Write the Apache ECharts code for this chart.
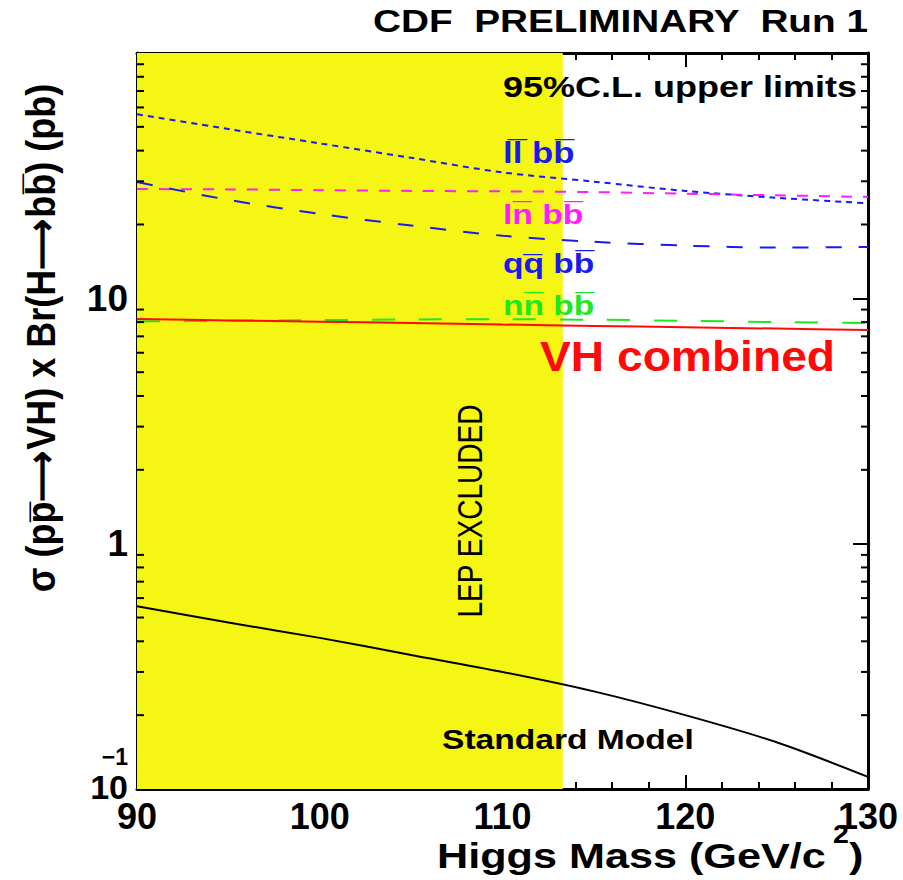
<!DOCTYPE html>
<html><head><meta charset="utf-8">
<script src="https://cdn.jsdelivr.net/npm/echarts@6/dist/echarts.min.js"></script>
<style>html,body{margin:0;padding:0;background:#fff}#c{width:903px;height:880px}</style>
</head><body><div id="c"></div>
<script>
// ---- data ----
const masses = [90, 95, 100, 105, 110, 115, 120, 125, 130];
const llbb   = [56.3, 49.0, 42.8, 37.4, 32.6, 29.9, 27.4, 25.7, 24.4];
const lnbb   = [27.9, 27.8, 27.6, 27.4, 27.3, 27.1, 26.7, 26.3, 25.9];
const qqbb   = [29.8, 25.2, 22.1, 19.8, 18.0, 17.0, 16.4, 16.1, 16.2];
const nnbb   = [8.04, 8.10, 8.15, 8.20, 8.22, 8.18, 8.10, 8.00, 7.93];
const vhComb = [8.24, 8.13, 8.03, 7.93, 7.82, 7.72, 7.62, 7.53, 7.43];
const smXsec = [0.556, 0.477, 0.413, 0.352, 0.300, 0.250, 0.200, 0.155, 0.112];
const lepLimit = 113.3;
const xMin = 90, xMax = 130, xStep = 10;
const yMin = 0.1, yMax = 100;
const yMinorTicks = [0.2,0.3,0.4,0.5,0.6,0.7,0.8,0.9, 2,3,4,5,6,7,8,9, 20,30,40,50,60,70,80,90];
const yTickText = {'0.1': '10', '1': '1', '10': '10', '100': ''};

const pairs = arr => masses.map((m, i) => [m, arr[i]]);
const FONT = '"Liberation Sans", Arial, sans-serif';
const black = '#000';

const chart = echarts.init(document.getElementById('c'), null, {renderer: 'svg'});

const tickStyle = {color: black, width: 2};
function xAx(pos, showLabel) {
  return {
    type: 'value', min: xMin, max: xMax, interval: xStep, position: pos,
    axisLine: {show: true, onZero: false, lineStyle: {color: black, width: 3}},
    axisTick: {show: true, inside: true, length: 14, lineStyle: tickStyle},
    minorTick: {show: true, splitNumber: 5, length: 7, lineStyle: tickStyle},
    splitLine: {show: false},
    axisLabel: {show: showLabel, fontSize: 36, fontWeight: 'bold', fontFamily: FONT, color: black, margin: 9}
  };
}
function yAx(pos, showLabel) {
  return {
    type: 'log', logBase: 10, min: yMin, max: yMax, position: pos,
    axisLine: {show: true, onZero: false, lineStyle: {color: black, width: 3}},
    axisTick: {show: true, inside: true, length: 15, lineStyle: tickStyle},
    minorTick: {show: false},
    splitLine: {show: false},
    axisLabel: {
      show: showLabel, margin: 9, align: 'right',
      formatter: v => {
        const key = String(+v.toPrecision(3));
        const t = yTickText[key];
        if (t === undefined || t === '') return '';
        if (key === '0.1') return '{e|−1}\n{s|' + t + '}\n{f| }';
        return '{b|' + t + '}';
      },
      rich: {
        b: {fontSize: 37, fontWeight: 'bold', fontFamily: FONT, color: black, lineHeight: 40, align: 'right'},
        s: {fontSize: 34, fontWeight: 'bold', fontFamily: FONT, color: black, lineHeight: 34, align: 'right'},
        e: {fontSize: 23, fontWeight: 'bold', fontFamily: FONT, color: black, lineHeight: 26, align: 'right'},
        f: {fontSize: 10, lineHeight: 30, align: 'right'}
      }
    }
  };
}

function lineSeries(name, arr, color, type, z) {
  return {
    name, type: 'line', data: pairs(arr), showSymbol: false, smooth: 0.3, z: z || 3,
    lineStyle: {color, width: 2, type}, xAxisIndex: 0, yAxisIndex: 0, silent: true
  };
}

const option = {
  backgroundColor: '#fff',
  animation: false,
  grid: {left: 137, right: 35, top: 53, bottom: 91, containLabel: false},
  xAxis: [xAx('bottom', true), xAx('top', false)],
  yAxis: [yAx('left', true), yAx('right', false)],
  series: [
    {
      name: 'LEP excluded', type: 'line', data: [], z: 1, silent: true,
      markArea: {
        silent: true,
        itemStyle: {color: '#f6f614', opacity: 1},
        data: [[{coord: [xMin, yMin]}, {coord: [lepLimit, yMax]}]]
      }
    },
    lineSeries('ll bb', llbb, '#1a1aee', [6, 5]),
    lineSeries('ln bb', lnbb, '#ff1cff', [11, 11]),
    lineSeries('qq bb', qqbb, '#1a1aee', [16, 17]),
    lineSeries('nn bb', nnbb, '#1ee81e', [23, 24]),
    lineSeries('VH combined', vhComb, '#ff0a0a', 'solid', 4),
    lineSeries('Standard Model', smXsec, '#000000', 'solid', 4),
    {
      name: 'minor ticks', type: 'custom', z: 6, silent: true, clip: false,
      data: yMinorTicks.map(v => [xMin, v]),
      renderItem: (params, api) => {
        const v = api.value(1);
        const pL = api.coord([xMin, v]);
        const pR = api.coord([xMax, v]);
        const len = 7;
        return {
          type: 'group',
          children: [
            {type: 'line', shape: {x1: pL[0], y1: pL[1], x2: pL[0] + len, y2: pL[1]}, style: {stroke: black, lineWidth: 2}},
            {type: 'line', shape: {x1: pR[0], y1: pR[1], x2: pR[0] - len, y2: pR[1]}, style: {stroke: black, lineWidth: 2}}
          ]
        };
      }
    }
  ],
  graphic: [
    {type: 'text', x: 868, y: 21, scaleX: 1.25, z: 10,
     style: {text: 'CDF  PRELIMINARY  Run 1', fill: black, font: 'bold 31px ' + FONT, textAlign: 'right', textVerticalAlign: 'middle'}},
    {type: 'text', x: 503, y: 87, scaleX: 1.2, z: 10,
     style: {text: '95%C.L. upper limits', fill: black, font: 'bold 30px ' + FONT, textAlign: 'left', textVerticalAlign: 'middle'}},
    {type: 'text', x: 503, y: 153, scaleX: 1.2, z: 10,
     style: {text: 'll\u0305 bb\u0305', fill: '#1a1aee', font: 'bold 29px ' + FONT, textAlign: 'left', textVerticalAlign: 'middle'}},
    {type: 'text', x: 503, y: 214, scaleX: 1.2, z: 10,
     style: {text: 'ln\u0305 bb\u0305', fill: '#ff1cff', font: 'bold 28px ' + FONT, textAlign: 'left', textVerticalAlign: 'middle'}},
    {type: 'text', x: 503, y: 263, scaleX: 1.2, z: 10,
     style: {text: 'qq\u0305 bb\u0305', fill: '#1a1aee', font: 'bold 28px ' + FONT, textAlign: 'left', textVerticalAlign: 'middle'}},
    {type: 'text', x: 503, y: 305, scaleX: 1.2, z: 10,
     style: {text: 'nn\u0305 bb\u0305', fill: '#1ee81e', font: 'bold 28px ' + FONT, textAlign: 'left', textVerticalAlign: 'middle'}},
    {type: 'text', x: 540, y: 356, scaleX: 1.1, z: 10,
     style: {text: 'VH combined', fill: '#ff0a0a', font: 'bold 42px ' + FONT, textAlign: 'left', textVerticalAlign: 'middle'}},
    {type: 'text', x: 442, y: 739, scaleX: 1.2, z: 10,
     style: {text: 'Standard Model', fill: black, font: 'bold 28px ' + FONT, textAlign: 'left', textVerticalAlign: 'middle'}},
    {type: 'text', x: 470, y: 511, rotation: Math.PI / 2, scaleX: 0.78, z: 10,
     style: {text: 'LEP EXCLUDED', fill: black, font: 'normal 36px ' + FONT, textAlign: 'center', textVerticalAlign: 'middle'}},
    {type: 'text', x: 41, y: 338, rotation: Math.PI / 2, scaleY: 1.15, z: 10,
     style: {text: 'σ (pp\u0305\u27F6VH) x Br(H\u27F6bb\u0305) (pb)', fill: black, font: 'bold 36px ' + FONT, textAlign: 'center', textVerticalAlign: 'middle'}},
    {type: 'text', x: 437, y: 855, scaleX: 1.2, z: 10,
     style: {text: 'Higgs Mass (GeV/c', fill: black, font: 'bold 36px ' + FONT, textAlign: 'left', textVerticalAlign: 'middle'}},
    {type: 'text', x: 833, y: 834, scaleX: 1.1, z: 10,
     style: {text: '2', fill: black, font: 'bold 26px ' + FONT, textAlign: 'left', textVerticalAlign: 'middle'}},
    {type: 'text', x: 849, y: 855, scaleX: 1.2, z: 10,
     style: {text: ')', fill: black, font: 'bold 36px ' + FONT, textAlign: 'left', textVerticalAlign: 'middle'}}
  ]
};
chart.setOption(option);
</script>
</body></html>
